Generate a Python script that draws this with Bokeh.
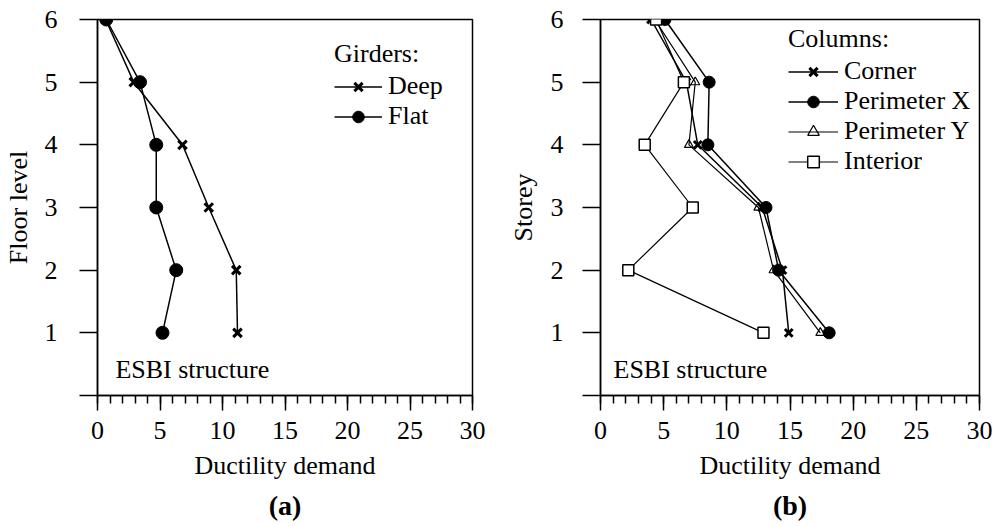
from bokeh.plotting import figure
from bokeh.models import Range1d, FixedTicker, Label, Title
from bokeh.layouts import row
from bokeh.embed import file_html
from bokeh.resources import INLINE

FONT = "Liberation Serif"

# ---- data ----
storeys = [6, 5, 4, 3, 2, 1]

# panel (a): girders
deep = [0.65, 2.9, 6.8, 8.9, 11.1, 11.2]
flat = [0.7, 3.4, 4.7, 4.7, 6.3, 5.2]

# panel (b): columns
corner = [4.0, 6.8, 7.7, 12.8, 14.4, 14.9]
perim_x = [5.1, 8.6, 8.5, 13.1, 14.1, 18.1]
perim_y = [4.3, 7.5, 7.0, 12.5, 13.7, 17.4]
interior = [4.4, 6.6, 3.5, 7.3, 2.2, 12.9]

x_ticks = [0, 5, 10, 15, 20, 25, 30]
x_minor = list(range(0, 31))
y_ticks = [0, 1, 2, 3, 4, 5, 6]


def make_panel(ylabel, tag, bl, br, ylab_standoff, axlab_standoff):
    p = figure(width=497, height=526, x_range=Range1d(0, 30), y_range=Range1d(0, 6),
               output_backend="svg", toolbar_location=None,
               min_border_left=bl, min_border_right=br, min_border_top=19, min_border_bottom=128)
    p.background_fill_color = "white"
    p.border_fill_color = "white"
    p.outline_line_color = "black"
    p.outline_line_width = 1.5
    p.grid.visible = False

    xa = p.xaxis[0]
    xa.ticker = FixedTicker(ticks=x_ticks, minor_ticks=x_minor)
    xa.axis_label = "Ductility demand"
    xa.major_tick_out = 15
    xa.major_tick_in = 0
    xa.minor_tick_out = 8
    xa.minor_tick_in = 0
    xa.major_label_standoff = 11
    xa.axis_label_standoff = 9

    ya = p.yaxis[0]
    ya.ticker = FixedTicker(ticks=y_ticks, minor_ticks=[])
    ya.axis_label = ylabel
    ya.major_tick_out = 18
    ya.major_tick_in = 0
    ya.major_label_overrides = {0: ""}
    ya.major_label_standoff = ylab_standoff
    ya.axis_label_standoff = axlab_standoff

    for ax in (xa, ya):
        ax.axis_line_width = 1.5
        ax.major_tick_line_width = 1.5
        ax.minor_tick_line_width = 1.5
        ax.axis_line_color = "black"
        ax.major_tick_line_color = "black"
        ax.minor_tick_line_color = "black"
        ax.major_label_text_font = FONT
        ax.major_label_text_font_size = "26px"
        ax.major_label_text_color = "black"
        ax.axis_label_text_font = FONT
        ax.axis_label_text_font_size = "26px"
        ax.axis_label_text_font_style = "normal"
        ax.axis_label_text_color = "black"

    p.add_layout(Title(text=tag, align="center", text_font=FONT, text_font_size="28px",
                       text_font_style="bold", text_color="black", standoff=11), "below")
    return p


def style_legend(p, title, loc, glyph_w):
    lg = p.legend[0]
    lg.title = title
    lg.location = loc
    lg.title_text_font = FONT
    lg.title_text_font_size = "26px"
    lg.title_text_font_style = "normal"
    lg.title_text_color = "black"
    lg.title_standoff = 2
    lg.label_text_font = FONT
    lg.label_text_font_size = "26px"
    lg.label_text_color = "black"
    lg.glyph_width = glyph_w
    lg.glyph_height = 29
    lg.label_height = 29
    lg.label_standoff = 6
    lg.spacing = 0
    lg.padding = 0
    lg.margin = 0
    lg.border_line_color = None
    lg.background_fill_alpha = 0


# ---- panel (a) ----
pa = make_panel("Floor level", "(a)", 95, 25, 22, 9)
pa.line(deep, storeys, line_color="black", line_width=1.5, legend_label="Deep")
pa.scatter(deep, storeys, marker="x", size=12, line_color="black", line_width=3, legend_label="Deep")
pa.line(flat, storeys, line_color="black", line_width=1.5, legend_label="Flat")
pa.scatter(flat, storeys, marker="circle", size=13, line_color="black", fill_color="black", legend_label="Flat")
pa.add_layout(Label(x=1.43, y=0.42, text="ESBI structure", text_font=FONT, text_font_size="26px",
                    text_baseline="middle", text_color="black"))
style_legend(pa, "Girders:", (237, 264), 48)

# ---- panel (b) ----
pb = make_panel("Storey", "(b)", 103, 15, 19, 10)
pb.line(corner, storeys, line_color="black", line_width=1.5, legend_label="Corner")
pb.scatter(corner, storeys, marker="x", size=11, line_color="black", line_width=3, legend_label="Corner")
pb.line(perim_x, storeys, line_color="black", line_width=1.5, legend_label="Perimeter X")
pb.scatter(perim_x, storeys, marker="circle", size=12, line_color="black", fill_color="black", legend_label="Perimeter X")
pb.line(perim_y, storeys, line_color="black", line_width=1.2, legend_label="Perimeter Y")
pb.scatter(perim_y, storeys, marker="triangle", size=9, line_color="black", fill_color=None, line_width=1.2, legend_label="Perimeter Y")
pb.line(interior, storeys, line_color="black", line_width=1.2, legend_label="Interior")
pb.scatter(interior, storeys, marker="square", size=11, line_color="black", fill_color="white", line_width=1.5, legend_label="Interior")
pb.add_layout(Label(x=1.03, y=0.42, text="ESBI structure", text_font=FONT, text_font_size="26px",
                    text_baseline="middle", text_color="black"))
style_legend(pb, "Columns:", (188, 219), 50)

layout = row(pa, pb)
open("out.html", "w").write(file_html(layout, INLINE))
